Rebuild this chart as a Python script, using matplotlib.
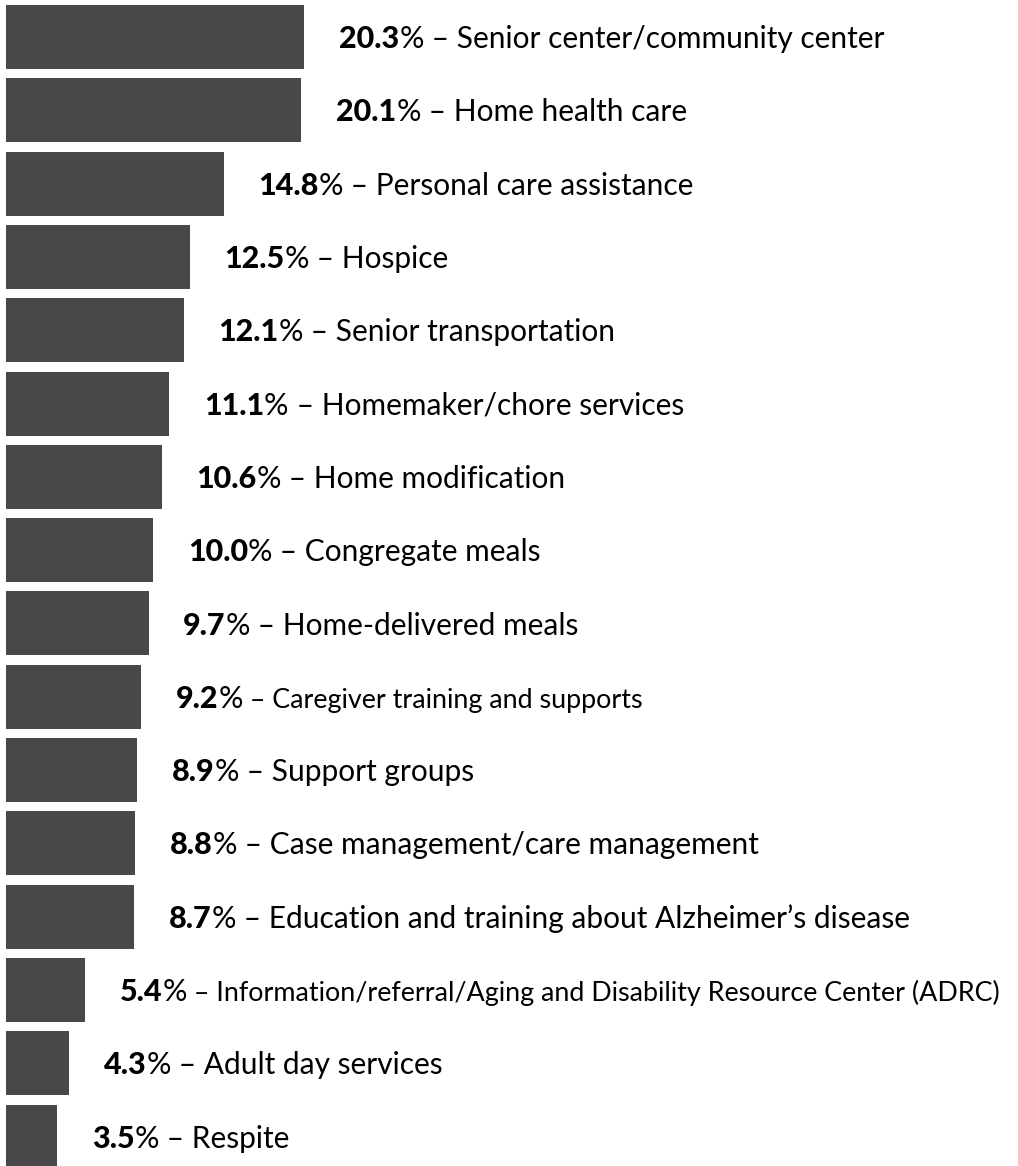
import matplotlib
matplotlib.use("Agg")
import matplotlib.pyplot as plt

# Services used, share of respondents (%), top to bottom
services = [
    "Senior center/community center",
    "Home health care",
    "Personal care assistance",
    "Hospice",
    "Senior transportation",
    "Homemaker/chore services",
    "Home modification",
    "Congregate meals",
    "Home-delivered meals",
    "Caregiver training and supports",
    "Support groups",
    "Case management/care management",
    "Education and training about Alzheimer\u2019s disease",
    "Information/referral/Aging and Disability Resource Center (ADRC)",
    "Adult day services",
    "Respite",
]
shares = [20.3, 20.1, 14.8, 12.5, 12.1, 11.1, 10.6, 10.0, 9.7, 9.2, 8.9, 8.8, 8.7, 5.4, 4.3, 3.5]
# labels set in the smaller face
small_labels = {"Caregiver training and supports",
                "Information/referral/Aging and Disability Resource Center (ADRC)"}

BAR_COLOR = "#49474a"
FONT = "Lato"
DPI = 100

fig = plt.figure(figsize=(10.18, 11.66), dpi=DPI)
ax = fig.add_axes([0, 0, 1, 1])

ypos = list(range(len(services)))
ax.barh(ypos, shares, height=0.873, color=BAR_COLOR, left=0)

ax.set_xlim(-6 / 14.7, (1018 - 6) / 14.7)
ax.set_ylim(15.402, -0.505)
ax.axis("off")

renderer = fig.canvas.get_renderer()
gap_pt = 25
base_pt = -8
for y, v, name in zip(ypos, shares, services):
    size = 19.4 if name in small_labels else 21.5
    t = ax.annotate(f"{v:.1f}", xy=(v, y), xytext=(gap_pt, base_pt),
                    textcoords="offset points", va="baseline", ha="left",
                    fontsize=22, fontweight="black", family=FONT, color="black")
    w_pt = t.get_window_extent(renderer).width * 72 / DPI
    p = ax.annotate("%", xy=(v, y), xytext=(gap_pt + w_pt, base_pt),
                    textcoords="offset points", va="baseline", ha="left",
                    fontsize=22, family=FONT, color="black")
    pct = p.get_window_extent(renderer).width * 72 / DPI
    ax.annotate(f" \u2013 {name}", xy=(v, y), xytext=(gap_pt + w_pt + pct, base_pt),
                textcoords="offset points", va="baseline", ha="left",
                fontsize=size, family=FONT, color="black")

fig.savefig("out.png", dpi=DPI)
